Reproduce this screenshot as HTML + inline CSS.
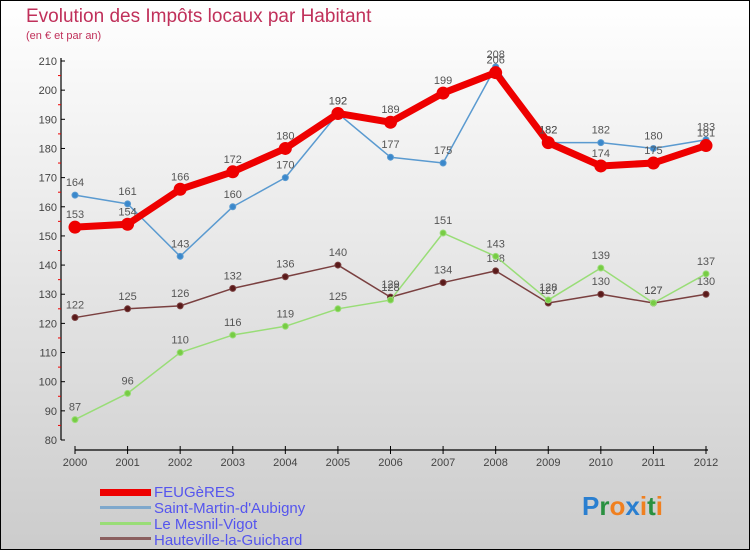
<!DOCTYPE html>
<html><head><meta charset="utf-8"><style>
body{margin:0}
svg{display:block;font-family:"Liberation Sans",sans-serif}
</style></head><body>
<svg id="chart" width="750" height="550">
<defs><linearGradient id="bg" x1="0" y1="0" x2="0" y2="1"><stop offset="0" stop-color="#ffffff"/><stop offset="1" stop-color="#cccccc"/></linearGradient></defs>
<rect x="0.5" y="0.5" width="749" height="549" fill="url(#bg)" stroke="#000"/>
<text x="26" y="22" font-size="19" fill="#c0305a">Evolution des Impôts locaux par Habitant</text>
<text x="26" y="39" font-size="11" fill="#c0305a">(en € et par an)</text>
<g id="axes"></g>
<g id="series"></g>
<g id="legend" font-size="15" fill="#5555ee">
<rect x="100" y="489" width="51" height="7" fill="#e00"/>
<text x="154" y="497">FEUGèRES</text>
<rect x="100" y="506" width="51" height="3" fill="#7fa8cc"/>
<text x="154" y="513">Saint-Martin-d'Aubigny</text>
<rect x="100" y="522" width="51" height="3" fill="#99dd77"/>
<text x="154" y="529">Le Mesnil-Vigot</text>
<rect x="100" y="537" width="51" height="3" fill="#8b6060"/>
<text x="154" y="545">Hauteville-la-Guichard</text>
</g>
<text x="582" y="515" font-size="26" font-weight="bold"><tspan fill="#2a7fd0">P</tspan><tspan fill="#2a9040">r</tspan><tspan fill="#f08020">o</tspan><tspan fill="#2a7fd0">x</tspan><tspan fill="#f08020">i</tspan><tspan fill="#2a9040">t</tspan><tspan fill="#f08020">i</tspan></text>
</svg>
<script>
const years=[2000,2001,2002,2003,2004,2005,2006,2007,2008,2009,2010,2011,2012];
const feugeres=[153,154,166,172,180,192,189,199,206,182,174,175,181];
const saintMartin=[164,161,143,160,170,192,177,175,208,182,182,180,183];
const mesnil=[87,96,110,116,119,125,128,151,143,128,139,127,137];
const hauteville=[122,125,126,132,136,140,129,134,138,127,130,127,130];
const yTicks=[80,90,100,110,120,130,140,150,160,170,180,190,200,210];
const NS="http://www.w3.org/2000/svg";
const x=i=>75+i*(706-75)/(years.length-1);
const y=v=>440-(v-80)*(440-61)/130;
function mk(t,a,p){const e=document.createElementNS(NS,t);for(const k in a)e.setAttribute(k,a[k]);p.appendChild(e);return e;}
const ax=document.getElementById('axes');
let l=mk('line',{x1:61,y1:58,x2:61,y2:440,stroke:'#000','stroke-width':1.2},ax);


l=mk('line',{x1:75,y1:450,x2:708,y2:450,stroke:'#000','stroke-width':1.2},ax);


yTicks.forEach(v=>{
 mk('line',{x1:61,y1:y(v),x2:65,y2:y(v),stroke:'#000'},ax);
 if(v<210)mk('line',{x1:58,y1:y(v+5),x2:61,y2:y(v+5),stroke:'#e00'},ax);
 const t=mk('text',{x:57,y:y(v)+4,'text-anchor':'end','font-size':11,fill:'#444'},ax);
 t.textContent=v;
 
 
});
years.forEach((yr,i)=>{
 mk('line',{x1:x(i),y1:446,x2:x(i),y2:454,stroke:'#000'},ax);
 const t=mk('text',{x:x(i),y:466,'text-anchor':'middle','font-size':11,fill:'#444'},ax);
 t.textContent=yr;
 
 
});
const sg=document.getElementById('series');
function series(data,name,col,w,r,dot){
 const g=mk('g',{},sg);
 
 
 const p=mk('polyline',{points:data.map((v,i)=>x(i)+','+y(v)).join(' '),fill:'none',stroke:col,'stroke-width':w,'stroke-linejoin':'round'},g);
 
 
 data.forEach((v,i)=>{
  const c=mk('circle',{cx:x(i),cy:y(v),r:r,fill:dot,stroke:col,'stroke-width':w>3?3:1},g);
  
  
  const t=mk('text',{x:x(i),y:y(v)-9,'text-anchor':'middle','font-size':11,fill:'#555'},g);
  t.textContent=v;
  
  
 });
}
series(hauteville,'hauteville','#7a4040',1.5,3,'#5a1a1a');
series(mesnil,'mesnil','#99dd77',1.5,3,'#77cc44');
series(saintMartin,'saint-martin','#5a9ad0',1.5,3,'#3a88cc');
series(feugeres,'feugeres','#e00',7,5,'#e00');
</script>
</body></html>
